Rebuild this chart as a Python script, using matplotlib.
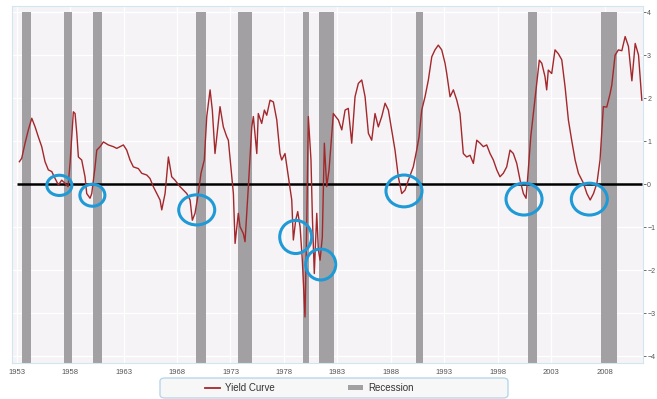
import matplotlib
matplotlib.use("Agg")
import matplotlib.pyplot as plt
from matplotlib.patches import Ellipse, FancyBboxPatch, Patch
from matplotlib.lines import Line2D

# ---------------- data ----------------
years = [1953.25, 1953.47, 1953.78, 1954.09, 1954.41, 1954.72, 1955.02, 1955.34, 1955.65, 1955.96,
         1956.28, 1956.59, 1956.90, 1957.21, 1957.52, 1957.80, 1957.99, 1958.30, 1958.46, 1958.62,
         1958.77, 1959.08, 1959.39, 1959.55, 1959.86, 1960.02, 1960.33, 1960.49, 1960.80, 1961.11,
         1961.57, 1962.04, 1962.36, 1962.51, 1962.98, 1963.29, 1963.60, 1963.91, 1964.38, 1964.70,
         1965.17, 1965.47, 1965.78, 1966.10, 1966.41, 1966.57, 1966.88, 1967.19, 1967.50, 1967.81,
         1968.28, 1968.59, 1968.91, 1969.22, 1969.43, 1969.68, 1969.99, 1970.24, 1970.55, 1970.78,
         1971.09, 1971.30, 1971.55, 1972.02, 1972.33, 1972.65, 1972.80, 1973.12, 1973.27, 1973.43,
         1973.73, 1973.89, 1974.20, 1974.36, 1974.67, 1974.99, 1975.14, 1975.46, 1975.60, 1975.92,
         1976.17, 1976.39, 1976.70, 1977.01, 1977.33, 1977.63, 1977.79, 1978.10, 1978.41, 1978.73,
         1978.88, 1979.10, 1979.29, 1979.51, 1979.72, 1979.97, 1980.13, 1980.28, 1980.53, 1980.66,
         1980.84, 1981.07, 1981.22, 1981.38, 1981.59, 1981.78, 1982.00, 1982.22, 1982.41, 1982.62,
         1983.09, 1983.41, 1983.72, 1984.02, 1984.34, 1984.65, 1984.96, 1985.28, 1985.59, 1985.90,
         1986.21, 1986.52, 1986.83, 1987.15, 1987.46, 1987.77, 1988.08, 1988.39, 1988.70, 1989.02,
         1989.33, 1989.64, 1990.10, 1990.42, 1990.64, 1990.89, 1991.20, 1991.51, 1991.83, 1992.13,
         1992.44, 1992.76, 1993.07, 1993.23, 1993.54, 1993.85, 1994.17, 1994.47, 1994.78, 1995.10,
         1995.41, 1995.72, 1996.04, 1996.35, 1996.65, 1996.97, 1997.28, 1997.59, 1997.91, 1998.21,
         1998.52, 1998.84, 1999.15, 1999.46, 1999.78, 2000.09, 2000.40, 2000.65, 2000.86, 2001.09,
         2001.33, 2001.65, 2001.89, 2002.12, 2002.42, 2002.58, 2002.73, 2003.05, 2003.36, 2003.67,
         2003.99, 2004.30, 2004.61, 2004.93, 2005.24, 2005.55, 2006.02, 2006.34, 2006.65, 2006.96,
         2007.28, 2007.57, 2007.88, 2008.20, 2008.51, 2008.67, 2008.98, 2009.29, 2009.61, 2009.92,
         2010.23, 2010.55, 2010.86, 2011.17, 2011.48]
spread = [0.52, 0.60, 0.95, 1.26, 1.53, 1.33, 1.10, 0.87, 0.52, 0.33,
          0.29, 0.13, -0.02, 0.09, 0.02, -0.06, 0.48, 1.68, 1.64, 1.18,
          0.63, 0.56, 0.17, -0.22, -0.33, -0.22, 0.40, 0.79, 0.87, 0.98,
          0.91, 0.87, 0.83, 0.85, 0.91, 0.79, 0.56, 0.40, 0.36, 0.25,
          0.21, 0.13, -0.06, -0.22, -0.37, -0.60, -0.22, 0.63, 0.17, 0.09,
          -0.06, -0.14, -0.22, -0.37, -0.84, -0.68, -0.22, 0.25, 0.56, 1.57,
          2.19, 1.72, 0.71, 1.80, 1.33, 1.10, 1.02, 0.17, -0.22, -1.38,
          -0.68, -0.99, -1.15, -1.34, -0.06, 1.33, 1.57, 0.71, 1.64, 1.41,
          1.72, 1.60, 1.95, 1.91, 1.49, 0.71, 0.56, 0.71, 0.17, -0.37,
          -1.30, -0.84, -0.64, -0.99, -1.77, -3.09, -0.99, 1.57, 0.56, -0.76,
          -2.08, -0.68, -1.53, -1.77, -1.23, 0.95, -0.06, 0.33, 0.95, 1.64,
          1.49, 1.26, 1.72, 1.76, 0.95, 2.03, 2.34, 2.42, 2.03, 1.18,
          1.02, 1.64, 1.33, 1.57, 1.88, 1.72, 1.26, 0.79, 0.17, -0.22,
          -0.14, 0.09, 0.40, 0.79, 1.10, 1.72, 2.03, 2.42, 2.96, 3.12,
          3.23, 3.12, 2.81, 2.57, 2.03, 2.19, 1.95, 1.64, 0.71, 0.63,
          0.67, 0.48, 1.02, 0.95, 0.87, 0.91, 0.71, 0.56, 0.33, 0.17,
          0.25, 0.40, 0.79, 0.71, 0.48, 0.09, -0.22, -0.33, 0.33, 1.10,
          1.64, 2.34, 2.88, 2.81, 2.50, 2.19, 2.65, 2.57, 3.12, 3.03,
          2.89, 2.26, 1.49, 1.00, 0.56, 0.25, 0.02, -0.22, -0.37, -0.22,
          0.02, 0.56, 1.80, 1.79, 2.10, 2.30, 3.00, 3.12, 3.10, 3.43,
          3.20, 2.40, 3.27, 3.00, 1.95]

rec_start = [1953.47, 1957.46, 1960.11, 1969.78, 1973.73, 1979.81, 1981.31, 1990.33, 2000.86, 2007.66]
rec_end = [1954.31, 1958.15, 1960.96, 1970.68, 1975.04, 1980.38, 1982.69, 1990.98, 2001.65, 2009.19]

# highlighted inversions (centre year, centre value, width in years, height in %)
circ_year = [1956.99, 1960.08, 1969.84, 1979.10, 1981.44, 1989.23, 2000.46, 2006.57]
circ_val = [-0.03, -0.26, -0.60, -1.23, -1.87, -0.16, -0.35, -0.35]
circ_w = [2.34, 2.34, 3.37, 2.99, 2.81, 3.37, 3.37, 3.37]
circ_h = [0.47, 0.51, 0.70, 0.77, 0.72, 0.74, 0.74, 0.74]

tick_years = [1953, 1958, 1963, 1968, 1973, 1978, 1983, 1988, 1993, 1998, 2003, 2008]
tick_labels = [str(y) for y in tick_years]
y_ticks = [-4, -3, -2, -1, 0, 1, 2, 3, 4]
bar_top = 4
legend_labels = ["Yield Curve", "Recession"]

# ---------------- style ----------------
plt.rcParams['font.family'] = ['Liberation Sans', 'DejaVu Sans']
RED = '#a3282c'
GRAY = '#a2a0a3'
BLUE = '#1f9ad6'

fig = plt.figure(figsize=(6.57, 3.99), dpi=100)
fig.patch.set_facecolor('white')
ax = fig.add_axes([12 / 657, 1 - 363 / 399, 631 / 657, 357 / 399])
ax.set_facecolor('#f5f3f6')
ylo, yhi = -4.16, 4.14
ax.set_xlim(1952.56, 2011.59)
ax.set_ylim(ylo, yhi)

ax.grid(True, color='white', linewidth=0.9)
ax.set_axisbelow(True)

for s, e in zip(rec_start, rec_end):
    ax.bar(s, bar_top - ylo, width=e - s, bottom=ylo, align='edge',
           color=GRAY, linewidth=0, zorder=1)

ax.hlines(0, tick_years[0], years[-1], color='black', linewidth=1.8, zorder=3)
ax.plot(years, spread, color=RED, linewidth=1.0, zorder=4)

for cx, cy, w, h in zip(circ_year, circ_val, circ_w, circ_h):
    ax.add_patch(Ellipse((cx, cy), w, h, fill=False, edgecolor=BLUE,
                         linewidth=2.2, zorder=5))

ax.set_xticks(tick_years)
ax.set_xticklabels(tick_labels)
ax.set_yticks(y_ticks)
ax.yaxis.tick_right()
ax.tick_params(axis='x', length=0, labelsize=5.5, colors='#555555', pad=4)
ax.tick_params(axis='y', length=2, width=0.6, labelsize=5, colors='#555555', pad=1)
for sp in ax.spines.values():
    sp.set_color('#d3e5f0')
    sp.set_linewidth(0.8)

# legend frame + legend
fig.patches.append(FancyBboxPatch((160 / 657, 1 / 399), 348 / 657, 20 / 399,
                                  boxstyle="round,pad=0,rounding_size=0.008",
                                  transform=fig.transFigure, facecolor='#f7f7f8',
                                  edgecolor='#b9d7ea', linewidth=1.0))
handles = [Line2D([], [], color=RED, linewidth=1.3),
           Patch(facecolor=GRAY, edgecolor='none')]
fig.legend(handles, legend_labels, ncol=2, frameon=False, loc='center left',
           bbox_to_anchor=(196 / 657, 11 / 399), fontsize=7, handlelength=1.6,
           handleheight=0.5, handletextpad=0.5, columnspacing=7.5,
           labelcolor='#333333')

fig.savefig('out.png', dpi=100)
